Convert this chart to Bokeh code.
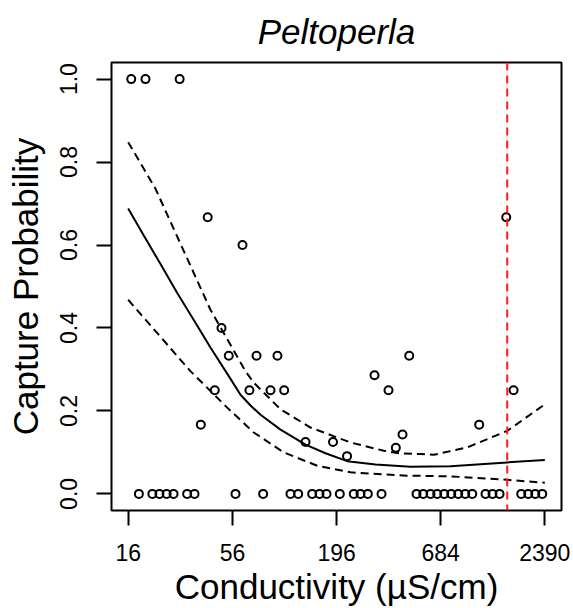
import math
from bokeh.plotting import figure
from bokeh.models import Range1d, FixedTicker, PrintfTickFormatter, Span
from bokeh.embed import file_html
from bokeh.resources import INLINE

# ---------------- data ----------------
title_text = "Peltoperla"
x_label = "Conductivity (\u00b5S/cm)"
y_label = "Capture Probability"

x_ticks = [16, 56, 196, 684, 2390]
y_ticks = [0.0, 0.2, 0.4, 0.6, 0.8, 1.0]

# observed capture probabilities (site conductivity, proportion)
obs_cond = [16.6, 19.7, 29.7,
            41.6, 1503,
            63.2,
            49.1,
            53.6, 74.8, 96.2, 468.5,
            45.3, 68.7, 88.5, 104.3, 365.3, 1641,
            38.3, 1086,
            134.8, 187.5,
            222,
            308.8,
            432.3,
            398.9,
            18.2, 21.4, 23.3, 25.4, 27.6, 32.5, 35.5, 58.1, 81.0, 112.5,
            123.4, 146.0, 159.4, 173.4, 203.5, 240.7, 260.9, 284.9, 335.9,
            511.5, 554.3, 605.2, 655.8, 713.6, 776.2, 844.2, 918.4, 999,
            1172, 1275, 1387, 1800, 1958, 2130, 2317]
obs_prob = [1.0, 1.0, 1.0,
            0.667, 0.667,
            0.6,
            0.4,
            0.333, 0.333, 0.333, 0.333,
            0.25, 0.25, 0.25, 0.25, 0.25, 0.25,
            0.167, 0.167,
            0.125, 0.125,
            0.091,
            0.286,
            0.143,
            0.111,
            0, 0, 0, 0, 0, 0, 0, 0, 0, 0,
            0, 0, 0, 0, 0, 0, 0, 0, 0,
            0, 0, 0, 0, 0, 0, 0, 0, 0,
            0, 0, 0, 0, 0, 0, 0]

# fitted curve
fit_cond = [16, 19.3, 23.6, 28.8, 35.2, 43.0, 53.6, 61.7, 69.6, 78.5, 99.8,
            134.8, 171.3, 222.4, 312.4, 475.9, 769.6, 1521, 2390]
fit_prob = [0.688, 0.623, 0.554, 0.485, 0.419, 0.353, 0.284, 0.239, 0.213, 0.191,
            0.155, 0.119, 0.098, 0.079, 0.071, 0.0655, 0.0665, 0.076, 0.082]

# upper confidence band
upper_cond = [16, 22.2, 43.0, 65.5, 72.4, 99.8, 143.1, 231.4, 345.2, 422,
              536.7, 629.7, 940.6, 1521, 2390]
upper_prob = [0.848, 0.736, 0.444, 0.296, 0.268, 0.204, 0.16, 0.124, 0.104, 0.0977,
              0.096, 0.0943, 0.112, 0.152, 0.216]

# lower confidence band
lower_cond = [16, 33.8, 52.6, 72.4, 103.8, 155.0, 231.4, 457.5, 769.6, 1521, 2224, 2390]
lower_prob = [0.468, 0.296, 0.208, 0.148, 0.10, 0.068, 0.052, 0.044, 0.0424, 0.034,
              0.028, 0.027]

threshold_cond = 1521

# ---------------- figure ----------------
FONT = "Liberation Sans"
lo, hi = math.log10(x_ticks[0]), math.log10(x_ticks[-1])
pad = 0.04 * (hi - lo)

p = figure(width=573, height=608, x_axis_type="log",
           x_range=Range1d(10 ** (lo - pad), 10 ** (hi + pad)),
           y_range=Range1d(-0.04, 1.04),
           output_backend="svg", toolbar_location=None,
           min_border_left=111, min_border_right=12,
           min_border_top=62, min_border_bottom=96,
           background_fill_color="white", border_fill_color="white")

p.title.text = title_text
p.title.text_font = FONT
p.title.text_font_style = "italic"
p.title.text_font_size = "35px"
p.title.align = "center"
p.title.vertical_align = "top"
p.title.standoff = 20
p.title.text_color = "black"

p.grid.visible = False
p.outline_line_color = "black"
p.outline_line_width = 2
p.outline_line_alpha = 1

for ax in (p.xaxis[0], p.yaxis[0]):
    ax.axis_line_color = None
    ax.minor_tick_line_color = None
    ax.major_tick_in = 0
    ax.major_tick_out = 15
    ax.major_tick_line_width = 2
    ax.major_tick_line_color = "black"
    ax.major_label_text_font = FONT
    ax.major_label_text_font_size = "23px"
    ax.major_label_text_color = "black"
    ax.axis_label_text_font = FONT
    ax.axis_label_text_font_size = "35px"
    ax.axis_label_text_font_style = "normal"
    ax.axis_label_text_color = "black"

p.xaxis.ticker = FixedTicker(ticks=x_ticks)
p.xaxis.formatter = PrintfTickFormatter(format="%d")
p.xaxis.major_label_standoff = 18
p.xaxis.axis_label = x_label
p.xaxis.axis_label_standoff = 3

p.yaxis.ticker = FixedTicker(ticks=y_ticks)
p.yaxis.formatter = PrintfTickFormatter(format="%.1f")
p.yaxis.major_label_orientation = "vertical"
p.yaxis.major_label_standoff = 19
p.yaxis.axis_label = y_label
p.yaxis.axis_label_standoff = 13

p.scatter(obs_cond, obs_prob, marker="circle", size=8,
          fill_color=None, line_color="black", line_width=2)

p.line(fit_cond, fit_prob, line_color="black", line_width=2)
p.line(upper_cond, upper_prob, line_color="black", line_width=2, line_dash="8 5")
p.line(lower_cond, lower_prob, line_color="black", line_width=2, line_dash="8 5")

p.add_layout(Span(location=threshold_cond, dimension="height",
                  line_color="#ff1a1a", line_width=2, line_dash="8 5"))

open("out.html", "w").write(file_html(p, INLINE))
